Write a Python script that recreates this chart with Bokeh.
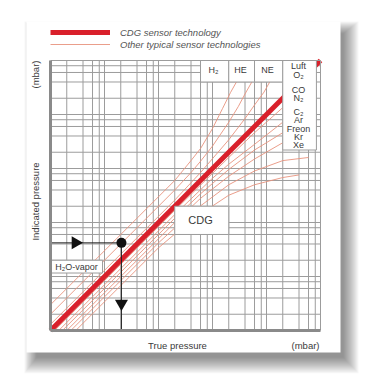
import math
from bokeh.plotting import figure
from bokeh.models import Label, BoxAnnotation, Legend, LegendItem
from bokeh.embed import file_html
from bokeh.resources import INLINE

# ---------------- data (mbar) ----------------
grid_ticks = [0.0005, 0.001, 0.002, 0.003, 0.004, 0.005,
              0.01, 0.02, 0.03, 0.04, 0.05,
              0.1, 0.2, 0.3, 0.4, 0.5,
              1, 2, 3, 4, 5,
              10, 20, 30, 40, 50]
p_min, p_max = 0.0005, 50

cdg_true = [0.0005, 50]
cdg_ind = [0.0005, 50]

h2_true = [0.0005, 0.1, 0.2, 0.3, 0.5, 0.77, 1.08, 1.5, 1.8]
h2_ind = [0.0015, 0.3, 0.7, 1.17, 2.75, 6.5, 12.8, 23, 50]
he_true = [0.0005, 0.1, 0.2, 0.3, 0.5, 1, 1.5, 2, 2.75, 3.2]
he_ind = [0.001, 0.2, 0.42, 0.68, 1.3, 3.6, 7, 12, 21, 50]
ne_true = [0.0005, 0.1, 0.3, 1, 2, 3, 4.5, 5.9, 7]
ne_ind = [0.00065, 0.13, 0.42, 1.7, 4.2, 7.5, 13, 21, 50]

r1_true = [0.000595, 0.1, 1, 3, 10]
r1_ind = [0.0005, 0.084, 0.8, 2.3, 6.7]
r2_true = [0.00071, 0.1, 0.5, 1, 3, 10]
r2_ind = [0.0005, 0.07, 0.33, 0.6, 1.4, 3.6]
r3_true = [0.00083, 0.1, 0.3, 1, 3, 10]
r3_ind = [0.0005, 0.06, 0.17, 0.48, 1.1, 2.3]
r4_true = [0.001, 0.1, 0.3, 1, 3, 10]
r4_ind = [0.0005, 0.05, 0.14, 0.36, 0.75, 1.5]
r5_true = [0.00119, 0.05, 0.2, 1, 3, 10, 30]
r5_ind = [0.0005, 0.021, 0.075, 0.25, 0.45, 0.7, 0.8]
r6_true = [0.00147, 0.05, 0.2, 1, 3, 10, 20]
r6_ind = [0.0005, 0.017, 0.055, 0.16, 0.25, 0.34, 0.38]

other_curves = [(h2_true, h2_ind), (he_true, he_ind), (ne_true, ne_ind),
                (r1_true, r1_ind), (r2_true, r2_ind), (r3_true, r3_ind),
                (r4_true, r4_ind), (r5_true, r5_ind), (r6_true, r6_ind)]

h2o_true = 0.0103
h2o_ind = 0.021
arrow_head_true = 0.00145
arrow_head_ind = 0.00158

# label boxes: left, right, bottom, top (mbar)
box_left = [0.3, 1, 3, 10, 0.1, 0.0005]
box_right = [1, 3, 10, 42, 1, 0.0046]
box_bottom = [20, 20, 20, 1.1, 0.03, 0.0058]
box_top = [50, 50, 50, 50, 0.1, 0.01]

# ---------------- styling / layout ----------------
RED = "#d9202b"
THIN = "#e8937e"
GRID = "#9c9c9c"
TXT = "#3a3a3a"
FONT = "Liberation Sans"

W, H = 376, 387
GX0, GX1, GY0, GY1 = 50, 320, 330, 60   # grid area in page px
DEC = (GX1 - GX0) / 5.0                  # px per decade

x_start = p_min * 10 ** (-GX0 / DEC)
x_end = p_max * 10 ** ((W - GX1) / DEC)
y_start = p_min * 10 ** (-(H - GY0) / DEC)
y_end = p_max * 10 ** (GY1 / DEC)

p = figure(width=W, height=H, output_backend="svg", toolbar_location=None,
           x_axis_type="log", y_axis_type="log",
           x_axis_location=None, y_axis_location=None,
           x_range=(x_start, x_end), y_range=(y_start, y_end), min_border=0)
p.min_border_left = p.min_border_right = p.min_border_top = p.min_border_bottom = 0
p.background_fill_color = "white"
p.border_fill_color = "white"
p.outline_line_color = None
p.grid.visible = False


def sx(px):
    return px


def sy(py):
    return H - py


# soft drop shadow (mostly right / bottom) + white card
CARD_L, CARD_R, CARD_T, CARD_B = 26, 340, 21, 352
for i in range(16):
    p.add_layout(BoxAnnotation(left=sx(CARD_L + 10 - i * 0.8), right=sx(CARD_R + 3 + i * 1.0),
                               top=sy(CARD_T + 12 - i * 0.8), bottom=sy(CARD_B + 5 + i * 1.05),
                               left_units="screen", right_units="screen",
                               top_units="screen", bottom_units="screen",
                               fill_color="black", fill_alpha=0.03, line_color=None,
                               level="image"))
p.add_layout(BoxAnnotation(left=sx(CARD_L), right=sx(CARD_R), top=sy(CARD_T), bottom=sy(CARD_B),
                           left_units="screen", right_units="screen",
                           top_units="screen", bottom_units="screen",
                           fill_color="white", fill_alpha=1, line_color=None, level="image"))

# log grid
inner = grid_ticks[1:-1]
p.segment(x0=inner, x1=inner, y0=[p_min] * len(inner), y1=[p_max] * len(inner),
          line_color=GRID, line_width=1)
p.segment(x0=[p_min] * len(inner), x1=[p_max] * len(inner), y0=inner, y1=inner,
          line_color=GRID, line_width=1)

# curves
thin_rs = []
for tx, iy in other_curves:
    thin_rs.append(p.line(tx, iy, line_color=THIN, line_width=0.9))
cdg_r = p.line(cdg_true, cdg_ind, line_color=RED, line_width=5)

# arrows / marker
p.line([p_min, h2o_true], [h2o_ind, h2o_ind], line_color="#222222", line_width=1)
p.line([h2o_true, h2o_true], [h2o_ind, p_min], line_color="#222222", line_width=1)
p.scatter([arrow_head_true], [h2o_ind], marker="triangle", angle=-math.pi / 2, size=13,
          fill_color="#111111", line_color=None)
p.scatter([h2o_true], [arrow_head_ind], marker="inverted_triangle", size=13,
          fill_color="#111111", line_color=None)
p.scatter([h2o_true], [h2o_ind], marker="circle", size=10, fill_color="#111111", line_color=None)

# label boxes
p.quad(left=box_left, right=box_right, bottom=box_bottom, top=box_top,
       fill_color="white", line_color=GRID, line_width=1)

# frame border
p.segment(x0=[p_min, p_max], x1=[p_max, p_max], y0=[p_max, p_min], y1=[p_max, p_max],
          line_color=GRID, line_width=1)
p.segment(x0=[p_min, p_min], x1=[p_min, p_max], y0=[p_max, p_min], y1=[p_min, p_min],
          line_color="#8a8a8a", line_width=3)


def lab(text, px, py, size=9.0, angle=0.0, style="normal", color=TXT):
    p.add_layout(Label(x=sx(px), y=sy(py), x_units="screen", y_units="screen", text=text,
                       text_font=FONT, text_font_size=f"{size}px", text_color=color,
                       text_align="center", text_baseline="middle", angle=angle,
                       text_font_style=style))


lab("H\u2082", 213, 69)
lab("HE", 240, 69)
lab("NE", 267, 69)
for t, yy in [("Luft", 65), ("O\u2082", 74), ("CO", 89), ("N\u2082", 97), ("C\u2082", 111),
              ("Ar", 119), ("Freon", 128), ("Kr", 136), ("Xe", 144)]:
    lab(t, 298, yy, size=9)
lab("CDG", 200, 219, size=11)
lab("H\u2082O-vapor", 76, 266, size=9)

lab("(mbar)", 35, 74, size=9.5, angle=math.pi / 2)
lab("Indicated pressure", 35, 201, size=9.5, angle=math.pi / 2)
lab("True pressure", 177, 345, size=9.5)
lab("(mbar)", 305, 345, size=9.5)

legend = Legend(items=[LegendItem(label="CDG sensor technology", renderers=[cdg_r]),
                       LegendItem(label="Other typical sensor technologies", renderers=[thin_rs[0]])],
                location=(50, H - 50), orientation="vertical",
                glyph_width=60, glyph_height=12, label_height=12, label_standoff=10,
                spacing=0, padding=0, margin=0,
                label_text_font=FONT, label_text_font_size="9.5px",
                label_text_font_style="italic", label_text_color="#555555",
                border_line_color=None, background_fill_alpha=0)
p.add_layout(legend, "center")

open("out.html", "w").write(file_html(p, INLINE))
